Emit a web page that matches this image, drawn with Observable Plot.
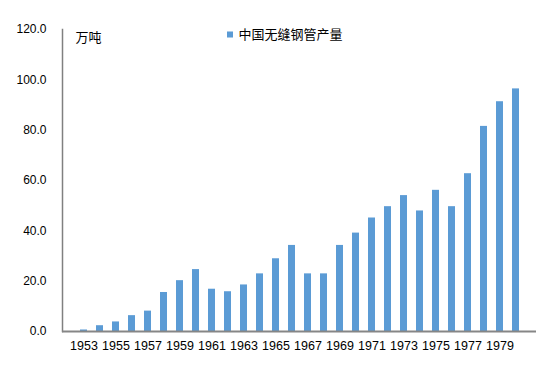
<!DOCTYPE html>
<html>
<head>
<meta charset="utf-8">
<script src="https://cdn.jsdelivr.net/npm/d3@7"></script>
<script src="https://cdn.jsdelivr.net/npm/@observablehq/plot@0.6"></script>
<style>
  html, body { margin: 0; padding: 0; background: #fff; }
  #chart svg { display: block; }
</style>
</head>
<body>
<div id="chart"></div>
<script>
const years = [1953,1954,1955,1956,1957,1958,1959,1960,1961,1962,1963,1964,1965,1966,
               1967,1968,1969,1970,1971,1972,1973,1974,1975,1976,1977,1978,1979,1980];
const output = [0.6,2.3,3.8,6.3,8.1,15.5,20.2,24.6,16.8,15.8,18.5,22.9,28.9,34.2,
                22.9,22.9,34.2,39.1,45.1,49.6,54.0,47.9,56.1,49.6,62.7,81.5,91.3,96.4];
const yTicks = [0,20,40,60,80,100,120];
const xTicks = [1953,1955,1957,1959,1961,1963,1965,1967,1969,1971,1973,1975,1977,1979];
const unitLabel = "万吨";
const seriesName = "中国无缝钢管产量";

const data = years.map((y, i) => ({year: y, value: output[i]}));
const cjk = "'Noto Sans CJK SC', 'Liberation Sans', Arial, sans-serif";

const chart = Plot.plot({
  width: 556,
  height: 366,
  marginLeft: 62,
  marginRight: 20,
  marginTop: 29,
  marginBottom: 35,
  style: {fontFamily: "'Liberation Sans', Arial, sans-serif", fontSize: "12px", color: "#000", background: "#fff"},
  x: {type: "band", domain: years, paddingInner: 0.58, paddingOuter: 0.29},
  y: {domain: [0, 120]},
  marks: [
    Plot.barY(data, {x: "year", y: "value", fill: "#5B9BD5"}),
    Plot.frame({anchor: "left", stroke: "#808080", strokeWidth: 1.5}),
    Plot.ruleY([0], {stroke: "#868686", strokeWidth: 2}),
    Plot.axisY({ticks: yTicks, tickSize: 0, tickPadding: 16, tickFormat: d => d.toFixed(1), label: null, fontSize: 12}),
    Plot.axisX({ticks: xTicks, tickSize: 0, tickPadding: 10, tickFormat: "d", label: null, fontSize: 12.5}),
    Plot.text([unitLabel], {frameAnchor: "top-left", dx: 13, dy: 8.5, textAnchor: "start", lineAnchor: "middle",
      fontFamily: cjk, fontSize: 13, fill: "#000"}),
    Plot.dot([0], {frameAnchor: "top-left", dx: 167.5, dy: 5, symbol: "square", r: 3.4, fill: "#5B9BD5", stroke: "none"}),
    Plot.text([seriesName], {frameAnchor: "top-left", dx: 176, dy: 5, textAnchor: "start", lineAnchor: "middle",
      fontFamily: cjk, fontSize: 13, fill: "#000"})
  ]
});
document.getElementById("chart").appendChild(chart);
</script>
</body>
</html>
